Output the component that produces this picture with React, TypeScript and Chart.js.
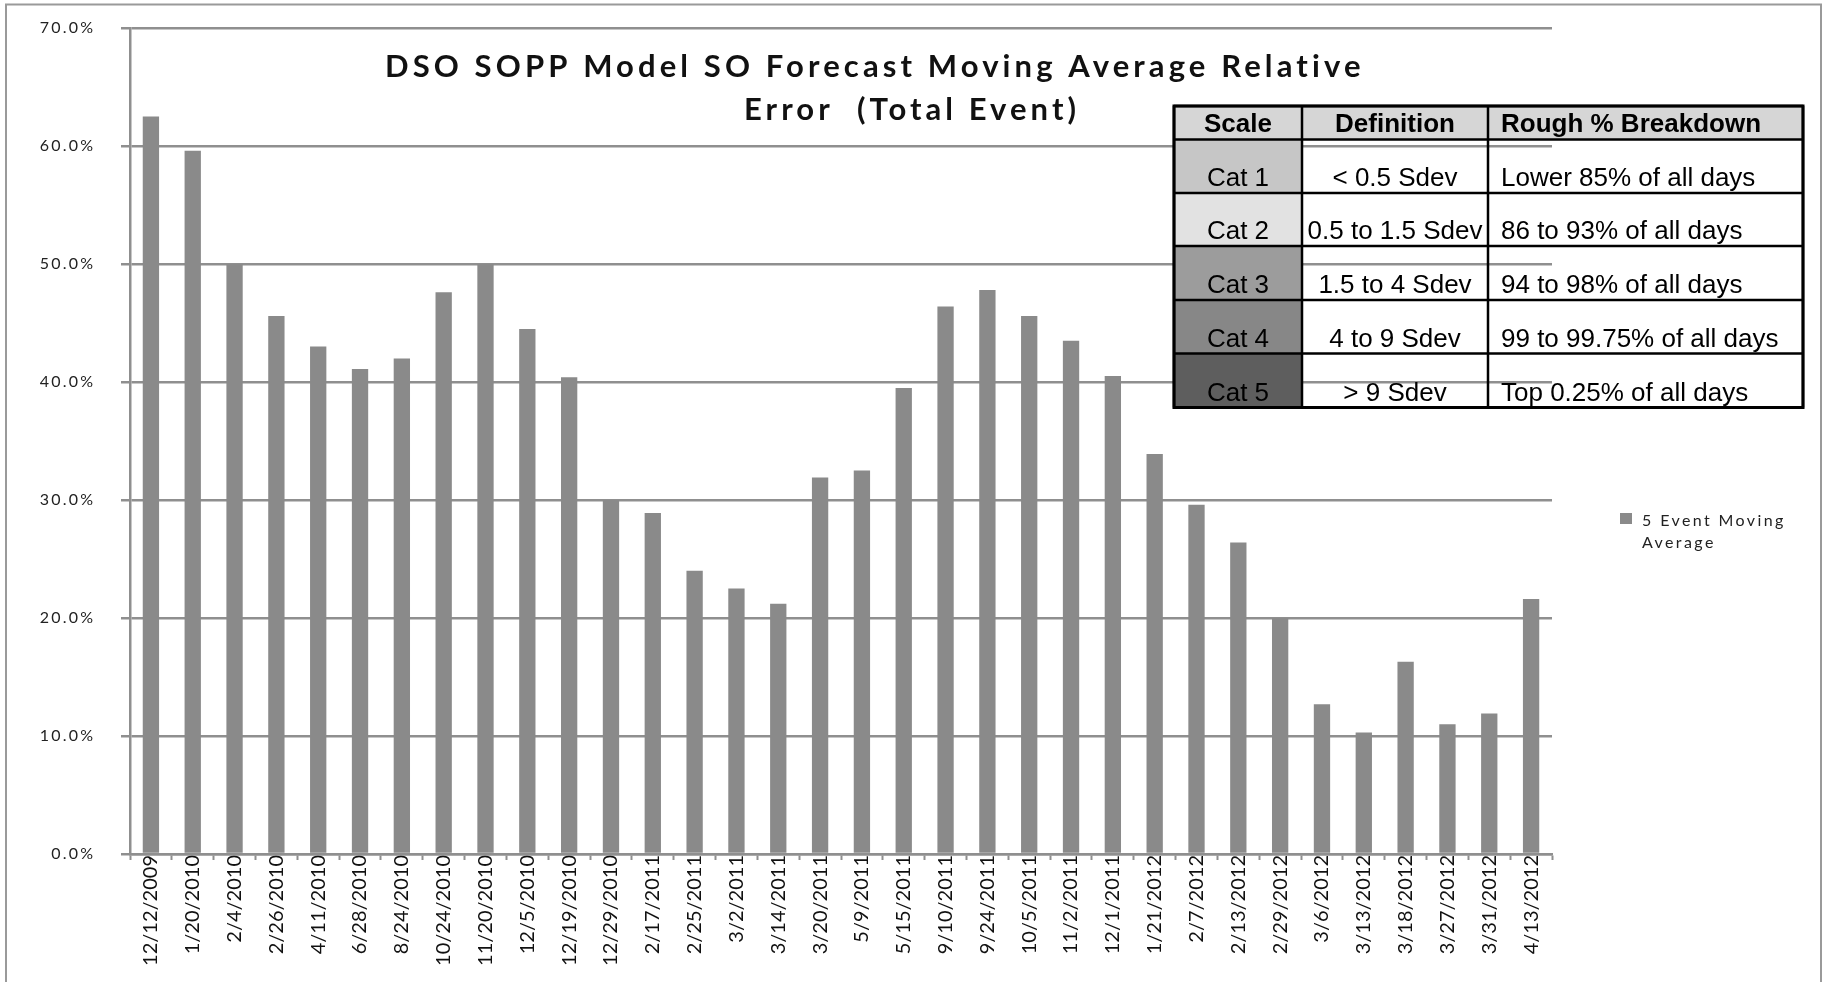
import React, { useEffect, useRef } from 'react';
import { Chart, registerables } from 'chart.js';

Chart.register(...registerables);

// ---- data ----
const categories = [
  '12/12/2009', '1/20/2010', '2/4/2010', '2/26/2010', '4/11/2010', '6/28/2010', '8/24/2010',
  '10/24/2010', '11/20/2010', '12/5/2010', '12/19/2010', '12/29/2010', '2/17/2011', '2/25/2011',
  '3/2/2011', '3/14/2011', '3/20/2011', '5/9/2011', '5/15/2011', '9/10/2011', '9/24/2011',
  '10/5/2011', '11/2/2011', '12/1/2011', '1/21/2012', '2/7/2012', '2/13/2012', '2/29/2012',
  '3/6/2012', '3/13/2012', '3/18/2012', '3/27/2012', '3/31/2012', '4/13/2012',
];
const movingAverage = [
  62.5, 59.6, 50.0, 45.6, 43.0, 41.1, 42.0,
  47.6, 50.0, 44.5, 40.4, 30.0, 28.9, 24.0,
  22.5, 21.2, 31.9, 32.5, 39.5, 46.4, 47.8,
  45.6, 43.5, 40.5, 33.9, 29.6, 26.4, 20.0,
  12.7, 10.3, 16.3, 11.0, 11.9, 21.6,
];
const seriesLabel = '5 Event Moving Average';
const titleLines = ['DSO SOPP Model SO Forecast Moving Average Relative', 'Error  (Total Event)'];
const yMin = 0;
const yMax = 70;
const yStep = 10;

const tableHeaders = ['Scale', 'Definition', 'Rough % Breakdown'];
const tableScale = ['Cat 1', 'Cat 2', 'Cat 3', 'Cat 4', 'Cat 5'];
const tableDefinition = ['< 0.5 Sdev', '0.5 to 1.5 Sdev', '1.5 to 4 Sdev', '4 to 9 Sdev', '> 9 Sdev'];
const tableBreakdown = [
  'Lower 85% of all days',
  '86 to 93% of all days',
  '94 to 98% of all days',
  '99 to 99.75% of all days',
  'Top 0.25% of all days',
];

// ---- styles ----
const BAR_COLOR = '#8a8a8a';
const GRID_COLOR = '#8f8f8f';
const SCALE_SHADES = ['#c6c6c6', '#e2e2e2', '#9c9c9c', '#878787', '#5e5e5e'];
const HEADER_SHADE = '#d6d6d6';

function drawSpaced(ctx: CanvasRenderingContext2D, text: string, x: number, y: number, targetWidth: number) {
  ctx.letterSpacing = '0px';
  const w = ctx.measureText(text).width;
  const n = Array.from(text).length;
  const sp = n > 1 ? (targetWidth - w) / (n - 1) : 0;
  ctx.letterSpacing = sp + 'px';
  ctx.textAlign = 'left';
  ctx.fillText(text, x, y);
  ctx.letterSpacing = '0px';
}

const overlayPlugin = {
  id: 'overlay',
  beforeDraw(chart: any) {
    chart.ctx.letterSpacing = '0px';
  },
  afterDatasetsDraw(chart: any) {
    // y tick labels (drawn after datasets) get Excel-like spacing
    chart.ctx.letterSpacing = '2.2px';
  },
  afterDraw(chart: any) {
    const ctx: CanvasRenderingContext2D = chart.ctx;
    ctx.save();
    ctx.letterSpacing = '0px';

    // outer frame
    ctx.strokeStyle = '#9a9a9a';
    ctx.lineWidth = 2;
    ctx.strokeRect(6, 4.5, 1815, 1000);

    // title
    ctx.fillStyle = '#111';
    ctx.font = 'bold 31px Lato';
    ctx.textBaseline = 'alphabetic';
    drawSpaced(ctx, titleLines[0], 385, 77, 976);
    drawSpaced(ctx, titleLines[1], 744, 120, 332);

    // table
    const cx = [1174, 1302, 1488, 1803];
    const ry = [106, 139.5, 193, 246, 300, 353.5, 407.5];
    ctx.fillStyle = HEADER_SHADE;
    ctx.fillRect(cx[0], ry[0], cx[3] - cx[0], ry[1] - ry[0]);
    for (let i = 0; i < tableScale.length; i++) {
      ctx.fillStyle = SCALE_SHADES[i];
      ctx.fillRect(cx[0], ry[i + 1], cx[1] - cx[0], ry[i + 2] - ry[i + 1]);
    }
    ctx.strokeStyle = '#000';
    ctx.lineWidth = 2.5;
    for (const y of ry) {
      ctx.beginPath();
      ctx.moveTo(cx[0], y);
      ctx.lineTo(cx[3], y);
      ctx.stroke();
    }
    for (const x of cx) {
      ctx.beginPath();
      ctx.moveTo(x, ry[0]);
      ctx.lineTo(x, ry[ry.length - 1]);
      ctx.stroke();
    }
    ctx.lineWidth = 3;
    ctx.strokeRect(cx[0], ry[0], cx[3] - cx[0], ry[ry.length - 1] - ry[0]);

    ctx.fillStyle = '#000';
    ctx.font = 'bold 26px "Liberation Sans", Arial, sans-serif';
    ctx.textAlign = 'center';
    ctx.fillText(tableHeaders[0], (cx[0] + cx[1]) / 2, ry[1] - 8);
    ctx.fillText(tableHeaders[1], (cx[1] + cx[2]) / 2, ry[1] - 8);
    ctx.textAlign = 'left';
    ctx.fillText(tableHeaders[2], cx[2] + 13, ry[1] - 8);
    ctx.font = '26px "Liberation Sans", Arial, sans-serif';
    for (let i = 0; i < tableScale.length; i++) {
      const base = ry[i + 2] - 7;
      ctx.textAlign = 'center';
      ctx.fillText(tableScale[i], (cx[0] + cx[1]) / 2, base);
      ctx.fillText(tableDefinition[i], (cx[1] + cx[2]) / 2, base);
      ctx.textAlign = 'left';
      ctx.fillText(tableBreakdown[i], cx[2] + 13, base);
    }

    // legend
    const ds = chart.data.datasets[0];
    ctx.fillStyle = ds.backgroundColor;
    ctx.fillRect(1620, 513, 12, 11);
    ctx.fillStyle = '#222';
    ctx.font = '16px Lato';
    ctx.letterSpacing = '2.4px';
    ctx.textAlign = 'left';
    const words = String(ds.label).split(' ');
    const lines: string[] = [];
    let cur = '';
    for (const w of words) {
      const test = cur ? cur + ' ' + w : w;
      if (ctx.measureText(test).width > 160 && cur) {
        lines.push(cur);
        cur = w;
      } else cur = test;
    }
    if (cur) lines.push(cur);
    lines.forEach((l, i) => ctx.fillText(l, 1642, 526 + i * 22));
    ctx.letterSpacing = '0px';

    ctx.restore();
    ctx.letterSpacing = '0px';
  },
};

export default function App() {
  const ref = useRef<HTMLCanvasElement>(null);

  useEffect(() => {
    const chart = new Chart(ref.current as HTMLCanvasElement, {
      type: 'bar',
      data: {
        labels: categories,
        datasets: [
          {
            label: seriesLabel,
            data: movingAverage,
            backgroundColor: BAR_COLOR,
            borderWidth: 0,
            barPercentage: 0.39,
            categoryPercentage: 1,
          },
        ],
      },
      options: {
        responsive: false,
        animation: false,
        events: [],
        layout: { padding: { left: 0, right: 277, top: 28, bottom: 0 } },
        plugins: {
          legend: { display: false },
          tooltip: { enabled: false },
          title: { display: false },
        },
        scales: {
          x: {
            offset: true,
            grid: {
              offset: true,
              drawOnChartArea: false,
              drawTicks: true,
              tickLength: 6,
              tickWidth: 2,
              tickColor: GRID_COLOR,
            },
            border: { display: true, color: GRID_COLOR, width: 2.5, z: 1 },
            ticks: {
              autoSkip: false,
              minRotation: 90,
              maxRotation: 90,
              padding: -5,
              color: '#111',
              font: { family: 'Lato', size: 20 },
            },
            afterFit: (scale: any) => {
              scale.height = 128;
              scale.paddingLeft = 0;
              scale.paddingRight = 0;
            },
          },
          y: {
            min: yMin,
            max: yMax,
            grid: {
              color: GRID_COLOR,
              lineWidth: 2.5,
              drawTicks: true,
              tickLength: 9,
            },
            border: { display: true, color: GRID_COLOR, width: 2.5, z: 1 },
            ticks: {
              stepSize: yStep,
              padding: 25.8,
              color: '#222',
              z: 1,
              font: { family: 'Lato', size: 16 },
              callback: (v: any) => Number(v).toFixed(1) + '%',
            },
            afterFit: (scale: any) => {
              scale.width = 130;
              scale.paddingTop = 0;
              scale.paddingBottom = 0;
            },
          },
        },
      },
      plugins: [overlayPlugin],
    } as any);
    return () => chart.destroy();
  }, []);

  return (
    <div style={{ position: 'absolute', left: 0, top: 0, width: 1829, height: 982, background: '#fff' }}>
      <canvas ref={ref} width={1829} height={982} style={{ display: 'block' }} />
    </div>
  );
}
